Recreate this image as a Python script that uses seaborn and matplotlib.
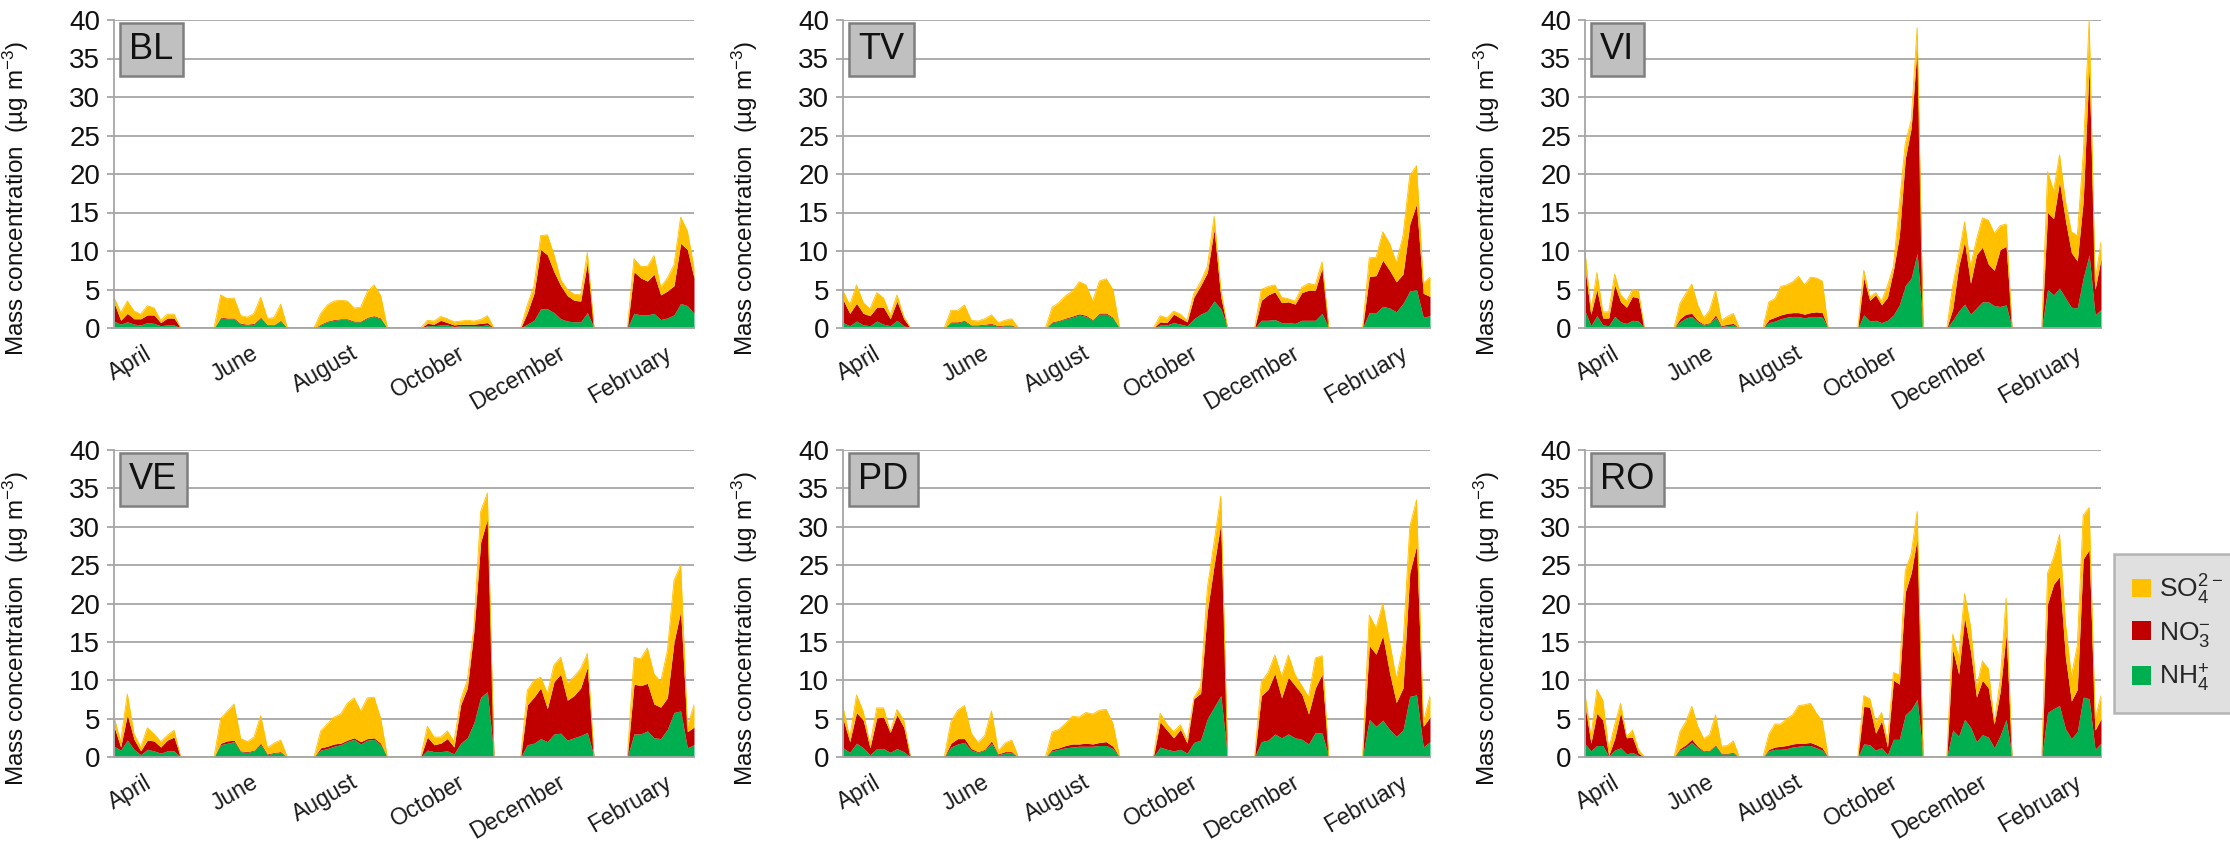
import numpy as np
import pandas as pd
import matplotlib
matplotlib.use("Agg")
import matplotlib.pyplot as plt
import matplotlib.transforms as mtransforms
from matplotlib.patches import Patch
import seaborn as sns

sns.set_style("white")
plt.rcParams['font.family'] = ['Liberation Sans', 'DejaVu Sans']
plt.rcParams['mathtext.fontset'] = 'custom'
plt.rcParams['mathtext.rm'] = 'Liberation Sans Narrow'
plt.rcParams['mathtext.it'] = 'Liberation Sans Narrow:italic'
plt.rcParams['mathtext.bf'] = 'Liberation Sans Narrow:bold'
plt.rcParams['mathtext.default'] = 'regular'

NARROW = ['Liberation Sans Narrow', 'Liberation Sans', 'DejaVu Sans']

# ---------------- data ----------------
MONTHS = ["April", "June", "August", "October", "December", "February"]
SITES = ["BL", "TV", "VI", "VE", "PD", "RO"]
N_CATEGORIES = 88
CAMPAIGN_START = [0, 16, 31, 47, 62, 78]
SAMPLES_PER_CAMPAIGN = 10

# each list: April, June, August, October, December, February (10 samples each)
BL_NH4 = [0.9,0.5,0.8,0.5,0.4,0.7,0.6,0.3,0.4,0.4,
          1.3,1.2,1.2,0.5,0.4,0.5,1.3,0.4,0.4,0.9,
          0.4,0.8,1.0,1.1,1.1,0.8,0.8,1.3,1.5,1.2,
          0.3,0.3,0.4,0.4,0.2,0.3,0.3,0.3,0.3,0.4,
          0.5,1.0,2.5,2.5,2.0,1.2,0.9,0.8,0.8,2.0,
          1.9,1.7,1.7,1.9,1.1,1.3,1.7,3.2,2.9,1.9]
BL_NO3 = [2.4,0.5,1.1,0.7,0.8,1.0,1.1,0.4,0.9,0.9,
          0.1,0.1,0.1,0.1,0.1,0.1,0.1,0.05,0.05,0.1,
          0.1,0.1,0.1,0.1,0.1,0.1,0.1,0.1,0.1,0.1,
          0.3,0.2,0.6,0.3,0.2,0.2,0.2,0.2,0.3,0.3,
          1.5,3.5,7.7,7.0,5.3,4.3,3.3,2.8,2.7,6.5,
          5.4,4.8,4.4,5.1,3.2,3.5,3.8,7.8,7.3,4.6]
BL_SO4 = [0.7,1.0,1.6,1.0,0.6,1.2,0.9,0.3,0.5,0.5,
          2.9,2.5,2.6,1.0,0.9,1.3,2.6,0.8,0.9,2.1,
          1.4,2.1,2.4,2.4,2.3,1.7,1.8,3.3,4.0,2.9,
          0.4,0.4,0.5,0.5,0.4,0.4,0.5,0.4,0.5,0.9,
          1.0,1.0,1.8,2.6,2.2,0.8,0.8,0.8,0.8,1.3,
          1.7,1.5,1.9,2.4,1.0,1.7,2.7,3.4,2.4,1.3]

TV_NH4 = [0.7,0.3,0.9,0.4,0.3,0.9,0.5,0.3,1.0,0.3,
          0.7,0.7,0.9,0.3,0.3,0.4,0.5,0.2,0.3,0.3,
          0.7,0.9,1.2,1.4,1.7,1.5,1.0,1.8,1.8,1.3,
          0.4,0.4,0.7,0.5,0.3,1.2,1.8,2.2,3.5,2.5,
          1.0,1.0,1.1,0.7,0.7,0.6,1.0,1.0,1.0,1.9,
          2.0,2.0,2.8,2.6,2.1,3.2,4.8,5.0,1.4,1.6]
TV_NO3 = [3.0,1.6,2.3,1.5,1.3,1.8,2.2,0.9,2.5,0.9,
          0.1,0.1,0.1,0.1,0.1,0.1,0.1,0.1,0.1,0.1,
          0.1,0.1,0.1,0.15,0.15,0.15,0.1,0.15,0.15,0.1,
          0.4,0.3,1.1,0.8,0.5,2.8,3.7,5.0,9.3,1.5,
          2.6,3.3,3.6,2.6,2.7,2.5,3.6,3.9,3.9,5.9,
          4.7,4.8,6.0,4.9,3.9,3.8,8.7,11.1,3.1,2.5]
TV_SO4 = [1.1,1.1,2.4,1.4,0.9,1.9,1.2,0.5,0.8,0.3,
          1.5,1.5,2.0,0.6,0.5,0.7,1.1,0.4,0.6,0.8,
          1.9,2.3,2.9,3.25,4.15,3.95,2.4,4.15,4.45,3.6,
          0.8,0.6,0.4,0.5,0.2,0.5,0.5,0.8,1.7,1.0,
          1.4,1.1,0.9,0.7,0.4,0.4,0.7,0.9,0.7,0.8,
          2.4,2.4,3.7,3.5,2.5,5.0,6.3,5.0,1.3,2.5]

VI_NH4 = [2.2,0.3,1.6,0.4,0.3,1.5,0.8,0.6,1.0,0.9,
          0.8,1.3,1.5,0.8,0.4,0.6,1.4,0.2,0.3,0.4,
          0.7,0.9,1.2,1.4,1.5,1.5,1.3,1.5,1.5,1.4,
          1.7,0.9,1.0,0.7,1.0,1.7,3.0,5.5,6.5,9.7,
          1.0,2.2,3.1,1.8,2.6,3.4,3.4,2.9,2.8,3.0,
          5.0,4.3,5.2,3.9,2.7,2.6,6.5,9.5,1.7,2.4]
VI_NO3 = [5.6,1.5,3.4,0.9,1.0,4.1,2.6,2.1,3.1,3.0,
          0.4,0.5,0.4,0.2,0.1,0.1,0.3,0.1,0.2,0.2,
          0.4,0.5,0.5,0.5,0.5,0.5,0.5,0.5,0.6,0.6,
          4.8,2.7,3.3,2.3,3.0,5.8,9.0,16.5,19.5,26.8,
          1.5,5.8,8.1,4.0,6.9,7.1,4.9,4.6,7.4,7.6,
          10.0,9.9,13.8,10.1,7.1,6.1,10.0,24.5,3.3,6.6]
VI_SO4 = [2.2,0.3,2.2,0.8,0.8,1.4,0.9,0.8,0.9,0.9,
          2.0,2.7,3.8,2.0,0.8,1.6,3.2,0.7,1.0,1.3,
          2.3,2.4,3.7,3.7,4.0,4.7,3.8,4.6,4.4,4.1,
          1.0,0.4,0.3,0.5,1.5,0.5,4.0,2.0,1.0,2.5,
          3.0,1.5,2.6,2.2,2.0,3.8,5.7,4.8,3.1,2.9,
          5.3,3.6,3.5,2.5,2.7,3.3,6.0,6.0,1.0,2.2]

VE_NH4 = [1.4,0.9,2.2,1.0,0.3,1.0,0.8,0.5,0.8,0.8,
          1.6,1.8,2.0,0.7,0.6,0.8,1.6,0.3,0.5,0.6,
          0.9,1.1,1.4,1.6,2.0,2.3,1.7,2.2,2.3,1.6,
          0.9,0.7,0.7,0.8,0.4,1.8,2.5,4.5,7.8,8.5,
          1.6,1.8,2.4,2.0,3.0,3.1,2.2,2.5,2.8,3.2,
          3.0,3.0,3.4,2.5,2.4,3.6,5.8,6.0,1.2,1.6]
VE_NO3 = [2.6,0.4,3.3,1.3,0.5,1.2,1.3,0.8,1.4,1.8,
          0.2,0.3,0.2,0.1,0.1,0.1,0.2,0.1,0.1,0.1,
          0.3,0.3,0.3,0.2,0.2,0.2,0.3,0.2,0.2,0.2,
          1.7,0.9,1.1,1.6,0.9,5.0,6.5,12.0,20.2,22.5,
          5.2,6.0,6.6,4.3,6.8,7.7,5.2,5.5,6.2,8.5,
          6.5,6.3,6.2,4.4,4.1,4.1,9.2,13.0,2.1,2.3]
VE_SO4 = [1.2,0.7,2.7,0.7,0.5,1.6,0.9,0.7,0.6,0.9,
          3.2,3.9,4.7,1.6,1.3,1.7,3.6,0.8,1.2,1.5,
          2.2,2.9,3.5,3.8,4.8,5.2,4.0,5.3,5.3,3.2,
          1.4,1.0,0.8,1.0,0.7,0.7,1.0,0.5,4.0,3.4,
          1.9,2.2,1.4,2.0,2.2,2.2,2.2,2.5,2.5,1.8,
          3.5,3.5,4.6,3.9,3.3,6.1,8.0,6.0,0.7,2.9]

PD_NH4 = [1.2,0.6,1.8,1.2,0.3,1.1,1.1,0.6,1.1,0.7,
          1.3,1.7,1.9,0.9,0.6,0.9,1.8,0.3,0.5,0.6,
          0.8,1.0,1.2,1.3,1.4,1.4,1.4,1.5,1.5,1.1,
          1.3,1.0,0.8,1.0,0.5,1.9,2.2,5.0,6.5,8.0,
          2.0,2.2,3.0,2.5,3.0,2.5,2.3,1.7,3.2,3.1,
          4.9,4.0,4.8,3.6,2.7,3.5,7.9,8.1,1.3,2.0]
PD_NO3 = [3.8,1.4,4.0,3.6,0.9,4.0,4.1,2.6,4.4,3.2,
          0.5,0.7,0.5,0.2,0.1,0.1,0.3,0.1,0.2,0.1,
          0.2,0.2,0.3,0.4,0.3,0.4,0.3,0.4,0.5,0.3,
          3.3,2.5,1.7,2.6,1.3,5.7,6.1,14.0,18.5,22.5,
          6.0,6.6,7.9,5.2,7.4,6.8,5.9,3.9,5.8,7.7,
          9.6,9.4,11.0,7.4,4.4,5.5,16.1,19.4,2.7,3.2]
PD_SO4 = [1.5,0.5,2.3,1.1,0.4,1.3,1.2,0.1,0.7,0.9,
          2.8,3.7,4.3,2.0,1.2,1.8,3.9,0.4,1.1,1.5,
          2.3,2.4,2.9,3.6,3.5,4.0,3.9,4.2,4.2,3.0,
          1.1,0.8,0.8,0.6,0.4,0.1,0.9,3.0,3.0,3.5,
          1.8,2.2,2.4,2.8,2.9,1.4,1.1,2.2,3.9,2.4,
          4.0,3.4,4.2,4.0,3.1,5.5,6.0,6.0,0.5,2.8]

RO_NH4 = [1.7,0.8,1.5,1.5,0.1,0.9,1.2,0.4,0.6,0.2,
          0.9,1.3,1.9,1.2,0.7,0.8,1.5,0.4,0.4,0.5,
          0.8,1.0,1.0,1.1,1.3,1.4,1.5,1.5,1.2,0.9,
          1.7,1.6,0.9,1.2,0.3,2.3,2.3,5.5,6.2,7.5,
          3.5,2.7,4.9,3.9,2.0,2.9,2.6,1.2,2.8,4.9,
          5.8,6.3,6.7,3.7,2.4,3.3,7.8,7.6,1.0,1.8]
RO_NO3 = [5.0,1.0,4.2,3.3,0.1,1.5,4.6,2.1,2.0,0.3,
          0.2,0.3,0.4,0.2,0.1,0.1,0.1,0.1,0.1,0.1,
          0.2,0.3,0.4,0.4,0.4,0.4,0.3,0.4,0.4,0.3,
          4.9,4.9,2.2,3.5,1.0,7.7,7.2,16.0,17.8,21.0,
          10.5,8.1,13.3,9.9,5.8,7.1,6.4,3.1,5.7,11.1,
          14.2,16.2,16.8,9.3,4.9,5.5,18.0,19.4,2.5,3.2]
RO_SO4 = [1.5,0.8,3.1,2.6,0.8,1.8,1.2,0.1,0.9,0.5,
          2.2,3.0,4.3,2.6,1.6,2.0,3.9,0.9,1.0,1.5,
          2.0,3.0,2.9,3.5,3.8,4.9,5.0,5.1,4.1,3.5,
          1.4,1.1,1.4,1.1,0.7,1.0,1.2,2.8,2.5,3.5,
          2.0,2.2,3.1,3.2,1.2,2.5,2.5,0.2,1.5,4.7,
          4.0,3.5,5.5,4.5,3.2,5.7,5.7,5.5,1.5,3.0]

SITE_DATA = {
    "BL": (BL_NH4, BL_NO3, BL_SO4),
    "TV": (TV_NH4, TV_NO3, TV_SO4),
    "VI": (VI_NH4, VI_NO3, VI_SO4),
    "VE": (VE_NH4, VE_NO3, VE_SO4),
    "PD": (PD_NH4, PD_NO3, PD_SO4),
    "RO": (RO_NH4, RO_NO3, RO_SO4),
}

C_NH4 = "#00B050"
C_NO3 = "#C00000"
C_SO4 = "#FFC000"
GRID = "#A6A6A6"


def expand(vals):
    full = np.zeros(N_CATEGORIES)
    for k, s in enumerate(CAMPAIGN_START):
        full[s:s + SAMPLES_PER_CAMPAIGN] = vals[k * SAMPLES_PER_CAMPAIGN:(k + 1) * SAMPLES_PER_CAMPAIGN]
    return full


# ---------------- layout (pixels) ----------------
W, H = 2230, 842
fig = plt.figure(figsize=(W / 100, H / 100), dpi=100)
cols = [(114, 580), (843, 587), (1585, 516)]
rows = [(328, 308), (757, 307)]

x = np.arange(N_CATEGORIES)
label_pos = [s + 4.5 for s in CAMPAIGN_START]

for idx, site in enumerate(SITES):
    r, c = divmod(idx, 3)
    left, width = cols[c]
    base, height = rows[r]
    ax = fig.add_axes([left / W, (H - base) / H, width / W, height / H])
    nh4, no3, so4 = (expand(v) for v in SITE_DATA[site])
    ax.set_axisbelow(True)
    ax.stackplot(x, nh4, no3, so4, colors=[C_NH4, C_NO3, C_SO4], linewidth=0, zorder=2)
    df = pd.DataFrame({"x": x, "total": nh4 + no3 + so4})
    sns.lineplot(data=df, x="x", y="total", ax=ax, color=C_SO4, lw=0.6, zorder=3)

    ax.set_xlim(0, N_CATEGORIES - 1)
    ax.set_ylim(0, 40)
    ax.set_yticks(np.arange(0, 41, 5))
    ax.yaxis.grid(True, color=GRID, lw=1.3)
    ax.xaxis.grid(False)
    for sp in ["top", "right"]:
        ax.spines[sp].set_visible(False)
    for sp in ["left", "bottom"]:
        ax.spines[sp].set_color(GRID)
        ax.spines[sp].set_linewidth(1.3)
        ax.spines[sp].set_zorder(4)

    ax.set_xticks(x, minor=True)
    ax.set_xticks(label_pos)
    ax.set_xticklabels(MONTHS, rotation=30, ha="right", rotation_mode="anchor",
                       fontsize=16.5, color="#1a1a1a")
    ax.tick_params(axis="x", which="major", length=0, pad=10)
    ax.tick_params(axis="x", which="minor", length=5, width=1.1, color=GRID, direction="out")
    ax.tick_params(axis="y", length=5, width=1.3, color=GRID, direction="out",
                   labelsize=20, pad=5, left=True)
    for lbl in ax.get_yticklabels():
        lbl.set_fontfamily(NARROW)
        lbl.set_color("#111111")

    ax.set_xlabel("")
    ax.set_ylabel("Mass concentration  (µg m$^{-3}$)", fontsize=17.5, color="#111111")
    ax.yaxis.set_label_coords(-83 / width, 0.42)

    tr = mtransforms.offset_copy(ax.transAxes, fig=fig, x=15, y=-12, units="dots")
    ax.text(0, 1, site, transform=tr, ha="left", va="top", fontsize=26,
            family=NARROW, color="#111111",
            bbox=dict(boxstyle="square,pad=0.26", fc="#C0C0C0", ec="#7F7F7F", lw=1.8))

handles = [Patch(facecolor=C_SO4, edgecolor="none"),
           Patch(facecolor=C_NO3, edgecolor="none"),
           Patch(facecolor=C_NH4, edgecolor="none")]
labels = ["SO$_4^{2-}$", "NO$_3^{-}$", "NH$_4^{+}$"]
leg = fig.legend(handles, labels, loc="upper left", bbox_to_anchor=(2114 / W, 1 - 554 / H),
                 frameon=True, fancybox=False, fontsize=19, handlelength=0.7,
                 handleheight=0.7, handletextpad=0.3, labelspacing=0.5, borderpad=0.7,
                 borderaxespad=0)
leg.get_frame().set_facecolor("#D9D9D9")
leg.get_frame().set_edgecolor("#A6A6A6")
leg.get_frame().set_linewidth(1.8)

fig.savefig("out.png", dpi=100)
